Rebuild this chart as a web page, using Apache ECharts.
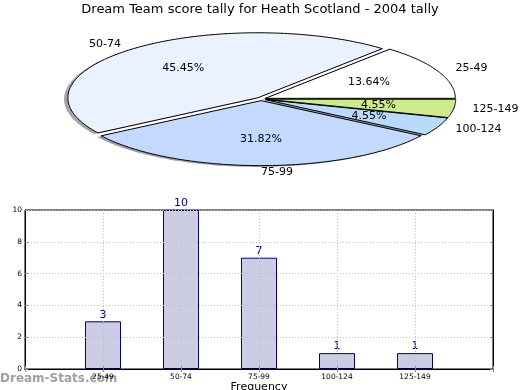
<!DOCTYPE html>
<html><head><meta charset="utf-8">
<script src="https://cdn.jsdelivr.net/npm/echarts@6/dist/echarts.min.js"></script>
<style>html,body{margin:0;padding:0;background:#fff}#c{width:520px;height:390px}</style>
</head><body><div id="c"></div>
<script>
const titleText = 'Dream Team score tally for Heath Scotland - 2004 tally';
const categories = ['25-49', '50-74', '75-99', '100-124', '125-149'];
const tallyValues = [3, 10, 7, 1, 1];
const yTicks = [0, 2, 4, 6, 8, 10];

const pieColors = ['#ffffff', '#ebf2ff', '#c3d9ff', '#b9d9ff', '#cdeb8b'];
const FONT = 'DejaVu Sans';

const total = tallyValues.reduce((a, b) => a + b, 0);
const starts = [];
let acc = 0;
tallyValues.forEach(v => { starts.push(acc); acc += v; });
const pieData = tallyValues.map((v, i) => [v, starts[i]]);

// layout
const CX = 261, CY = 99, RX = 190, RY = 65, EXPLODE = 0.025;

function hexToRgb(h) {
  const n = parseInt(h.slice(1), 16);
  return [(n >> 16) & 255, (n >> 8) & 255, n & 255];
}

function wedgePoints(v, s, dx, dy) {
  const a0 = s / total * 2 * Math.PI, a1 = (s + v) / total * 2 * Math.PI;
  const mid = (a0 + a1) / 2;
  const ox = Math.cos(mid) * EXPLODE * RX, oy = -Math.sin(mid) * EXPLODE * RY;
  const cx = CX + ox + dx, cy = CY + oy + dy;
  const pts = [[cx, cy]];
  const n = Math.max(4, Math.ceil((a1 - a0) / (Math.PI / 180)));
  for (let k = 0; k <= n; k++) {
    const a = a0 + (a1 - a0) * k / n;
    pts.push([cx + Math.cos(a) * RX, cy - Math.sin(a) * RY]);
  }
  return { pts, mid, cx, cy };
}

function renderShadow(params, api) {
  const i = params.dataIndex;
  const w = wedgePoints(api.value(0), api.value(1), -3.8, 1.3);
  const c = hexToRgb(pieColors[i]).map(x => Math.round(x * 0.3));
  return {
    type: 'polygon', shape: { points: w.pts },
    style: { fill: 'rgba(' + c.join(',') + ',0.5)', stroke: null }
  };
}

function renderWedge(params, api) {
  const i = params.dataIndex;
  const v = api.value(0);
  const w = wedgePoints(v, api.value(1), 0, 0);
  const cm = Math.cos(w.mid), sm = Math.sin(w.mid);
  const lx = w.cx + cm * 1.1 * RX, ly = w.cy - sm * 1.1 * RY;
  const px = w.cx + cm * 0.6 * RX, py = w.cy - sm * 0.6 * RY;
  return {
    type: 'group',
    children: [
      { type: 'polygon', shape: { points: w.pts },
        style: { fill: pieColors[i], stroke: '#000', lineWidth: 1, lineJoin: 'miter' } },
      { type: 'text', x: lx, y: ly, z2: 10,
        style: { text: categories[i], fill: '#000', fontSize: 11, fontFamily: FONT,
                 align: cm >= -1e-9 ? 'left' : 'right', verticalAlign: 'middle' } },
      { type: 'text', x: px, y: py, z2: 10,
        style: { text: (v / total * 100).toFixed(2) + '%', fill: '#000', fontSize: 11, fontFamily: FONT,
                 align: 'center', verticalAlign: 'middle' } }
    ]
  };
}

const xCats = [''].concat(categories, ['']);
const barData = [null].concat(tallyValues, [null]);
const GRIDCOL = '#bdbdbd', TICKCOL = '#8a8a8a';

const chart = echarts.init(document.getElementById('c'), null, { renderer: 'canvas' });
chart.setOption({
  animation: false,
  backgroundColor: '#fff',
  textStyle: { fontFamily: FONT },
  title: {
    text: titleText, left: 'center', top: 3, padding: 0,
    textStyle: { fontSize: 13, fontWeight: 'normal', color: '#000', fontFamily: FONT }
  },
  grid: { left: 25, right: 27, top: 210, bottom: 21, containLabel: false, outerBoundsMode: 'none',
          show: true, borderColor: '#000', borderWidth: 1, backgroundColor: 'transparent' },
  xAxis: [{
    type: 'category', data: xCats, boundaryGap: false, position: 'bottom', z: 5,
    name: 'Frequency', nameLocation: 'middle', nameGap: 12,
    nameTextStyle: { fontSize: 11, color: '#000', fontFamily: FONT },
    axisLine: { lineStyle: { color: '#000' } },
    axisTick: { show: true, inside: true, length: 3, interval: 0, lineStyle: { color: TICKCOL } },
    axisLabel: { interval: 0, fontSize: 7.5, color: '#000', margin: 4, fontFamily: FONT },
    splitLine: { show: true, interval: 0, lineStyle: { color: GRIDCOL, type: [1, 2] } }
  }, {
    type: 'category', data: xCats, boundaryGap: false, position: 'top', z: 5,
    axisLine: { lineStyle: { color: '#000' } },
    axisTick: { show: true, inside: true, length: 3, interval: 0, lineStyle: { color: TICKCOL } },
    axisLabel: { show: false }, splitLine: { show: false }
  }],
  yAxis: [{
    type: 'value', min: yTicks[0], max: yTicks[yTicks.length - 1], interval: 2, position: 'left', z: 5,
    name: 'Stat Intervals', nameLocation: 'middle', nameGap: 15,
    nameTextStyle: { fontSize: 11, color: '#000', fontFamily: FONT },
    axisLine: { show: true, lineStyle: { color: '#000' } },
    axisTick: { show: true, inside: true, length: 3, lineStyle: { color: TICKCOL } },
    axisLabel: { fontSize: 7.5, color: '#000', margin: 3, fontFamily: FONT },
    splitLine: { show: true, lineStyle: { color: GRIDCOL, type: [1, 2] } }
  }, {
    type: 'value', min: yTicks[0], max: yTicks[yTicks.length - 1], interval: 2, position: 'right', z: 5,
    axisLine: { show: true, lineStyle: { color: '#000' } },
    axisTick: { show: true, inside: true, length: 3, lineStyle: { color: TICKCOL } },
    axisLabel: { show: false }, splitLine: { show: false }
  }],
  graphic: [{
    type: 'text', left: 0, top: 373, z: -5,
    style: { text: 'Dream-Stats.com', fill: '#a0a0a0', fontSize: 12, fontWeight: 'bold', fontFamily: FONT }
  }],
  series: [
    { type: 'bar', data: barData, barWidth: 36, z: -1,
      itemStyle: { color: '#cccce3', borderColor: '#000080', borderWidth: 1 },
      label: { show: true, position: 'top', distance: 1, color: '#000080', fontSize: 11, fontFamily: FONT } },
    { type: 'custom', coordinateSystem: 'none', data: pieData, renderItem: renderShadow, z: 1, silent: true },
    { type: 'custom', coordinateSystem: 'none', data: pieData, renderItem: renderWedge, z: 2, silent: true }
  ]
});
</script></body></html>
